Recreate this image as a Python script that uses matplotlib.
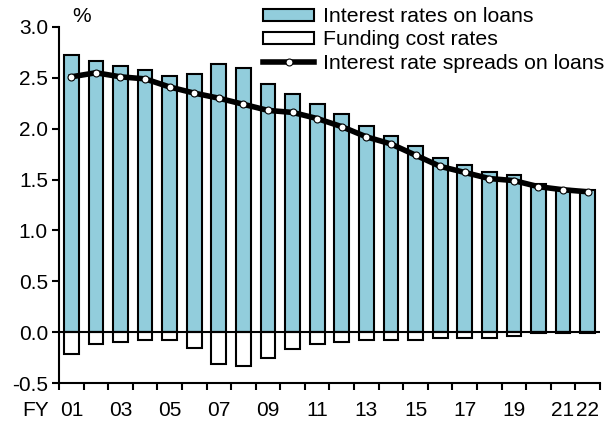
import matplotlib.pyplot as plt
import numpy as np
from matplotlib.ticker import FixedLocator

plt.rcParams['font.family'] = ['Liberation Sans', 'DejaVu Sans']

# Fiscal years and values (%)
years = ['01', '02', '03', '04', '05', '06', '07', '08', '09', '10', '11',
         '12', '13', '14', '15', '16', '17', '18', '19', '20', '21', '22']
loan_rates = [2.72, 2.67, 2.62, 2.58, 2.52, 2.54, 2.64, 2.60, 2.44, 2.34, 2.24,
              2.14, 2.03, 1.93, 1.83, 1.71, 1.64, 1.57, 1.54, 1.46, 1.41, 1.40]
funding_costs = [-0.21, -0.12, -0.10, -0.08, -0.08, -0.16, -0.31, -0.33, -0.25, -0.17, -0.12,
                 -0.10, -0.08, -0.08, -0.08, -0.06, -0.06, -0.06, -0.04, -0.01, -0.01, -0.01]
spreads = [2.51, 2.55, 2.51, 2.49, 2.41, 2.35, 2.30, 2.24, 2.18, 2.16, 2.10,
           2.02, 1.92, 1.85, 1.74, 1.63, 1.57, 1.51, 1.49, 1.43, 1.40, 1.38]

x = np.arange(len(years))

fig = plt.figure(figsize=(6.06, 4.25), dpi=100)
ax = fig.add_axes([0.0974, 0.0988, 0.8926, 0.8377])

b1 = ax.bar(x, loan_rates, width=0.6, color='#92CDDC', edgecolor='black', linewidth=1.5,
            label='Interest rates on loans', zorder=2)
b2 = ax.bar(x, funding_costs, width=0.6, color='white', edgecolor='black', linewidth=1.5,
            label='Funding cost rates', zorder=2)
ax.axhline(0, color='black', linewidth=1.5, zorder=3)
l1, = ax.plot(x, spreads, color='black', linewidth=4, marker='o', markersize=5,
              markerfacecolor='white', markeredgecolor='black', markeredgewidth=0.8,
              label='Interest rate spreads on loans', zorder=4)

ax.set_xlim(-0.5, len(years) - 0.5)
ax.set_ylim(-0.5, 3.0)
ax.set_yticks(np.arange(-0.5, 3.01, 0.5))
ax.set_yticklabels(['%.1f' % v for v in np.arange(-0.5, 3.01, 0.5)])

lab_idx = [i for i in range(len(years)) if i % 2 == 0] + [len(years) - 1]
ax.set_xticks(lab_idx)
ax.set_xticklabels([years[i] for i in lab_idx])
ax.xaxis.set_minor_locator(FixedLocator(np.arange(-0.5, len(years), 1.0)))
ax.tick_params(axis='x', which='major', length=0, pad=13, labelsize=15)
ax.tick_params(axis='x', which='minor', length=5, width=1.5, direction='out')
ax.tick_params(axis='y', length=5, width=1.5, direction='out', labelsize=15, pad=3)

for s in ['top', 'right']:
    ax.spines[s].set_visible(False)
for s in ['left', 'bottom']:
    ax.spines[s].set_linewidth(1.5)

fig.text(0.119, 0.962, '%', fontsize=15, ha='left', va='center')
fig.text(0.036, 0.033, 'FY', fontsize=15, ha='left', va='center')

leg = ax.legend(handles=[b1, b2, l1], loc='upper right', bbox_to_anchor=(1.0, 0.988),
                bbox_transform=fig.transFigure,
                frameon=False, fontsize=15.3, handlelength=2.4, handleheight=0.5,
                handletextpad=0.4, labelspacing=0.2, borderpad=0.1, borderaxespad=0)

fig.savefig('out.png', dpi=100)
